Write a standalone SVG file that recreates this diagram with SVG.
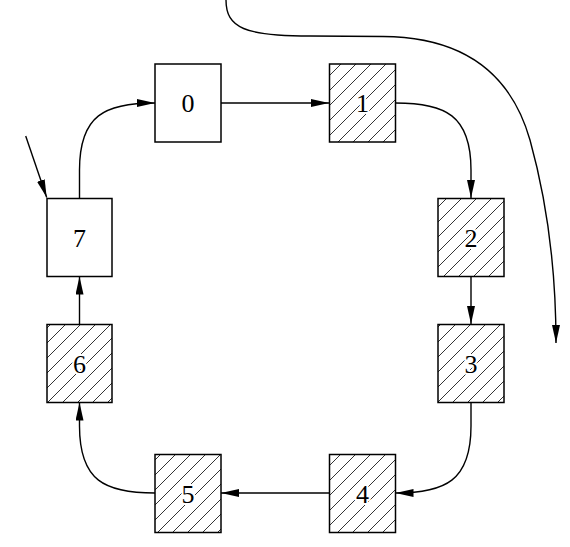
<svg xmlns="http://www.w3.org/2000/svg" width="570" height="547" viewBox="0 0 570 547">
<style>
.box{stroke:#000;stroke-width:1.5}
.plain{fill:#fff}
.hatch{fill:url(#h)}
.lbl{font-family:"Liberation Serif","Times New Roman",serif;font-size:26px;text-anchor:middle;fill:#000;stroke:#fff;stroke-width:4;paint-order:stroke;stroke-linejoin:round}
.edge{fill:none;stroke:#000;stroke-width:1.4;marker-end:url(#a)}
</style>
<defs>
<pattern id="h" patternUnits="userSpaceOnUse" width="15" height="15">
<rect width="15" height="15" fill="#fff"/>
<path d="M-1,1 L1,-1 M0,15 L15,0 M14,16 L16,14" stroke="#000" stroke-width="0.8"/>
</pattern>
<marker id="a" markerUnits="userSpaceOnUse" markerWidth="20" markerHeight="10" refX="18" refY="4" orient="auto">
<path d="M0,0 L18,4 L0,8 z" fill="#000"/>
</marker>
</defs>
<g id="connectors">
<path class="edge" d="M221,103 L329,103"/>
<path class="edge" d="M395.5,103 C445,103 471,115 471,170 L471,198"/>
<path class="edge" d="M471,276.5 L471,324"/>
<path class="edge" d="M471,402.5 L471,426 C471,481 445,493 395.5,493"/>
<path class="edge" d="M329,493 L221,493"/>
<path class="edge" d="M155,493 C105,493 79.5,481 79.5,426 L79.5,402.5"/>
<path class="edge" d="M79.5,324 L79.5,276.5"/>
<path class="edge" d="M79.5,198 L79.5,170 C79.5,115 105,103 155,103"/>
<path class="edge" d="M25.7,136 L46.7,197.5"/>
<path class="edge" d="M226,0 C226,28 245,36 310,36 L383,36.5 C460,37 510,70 530,140 C548,205 556,270 556,343"/>
</g>
<g id="n0"><rect class="box plain" x="155" y="64" width="66" height="78"/><text class="lbl" x="188" y="112">0</text></g>
<g id="n1"><rect class="box hatch" x="329.5" y="64" width="66" height="78"/><text class="lbl" x="362.5" y="112">1</text></g>
<g id="n2"><rect class="box hatch" x="438" y="198.5" width="66" height="78"/><text class="lbl" x="471" y="246.5">2</text></g>
<g id="n3"><rect class="box hatch" x="438" y="324.5" width="66" height="78"/><text class="lbl" x="471" y="372.5">3</text></g>
<g id="n4"><rect class="box hatch" x="329.5" y="454.5" width="66" height="78"/><text class="lbl" x="362.5" y="502.5">4</text></g>
<g id="n5"><rect class="box hatch" x="155" y="454.5" width="66" height="78"/><text class="lbl" x="188" y="502.5">5</text></g>
<g id="n6"><rect class="box hatch" x="47" y="324.5" width="65" height="78"/><text class="lbl" x="79.5" y="372.5">6</text></g>
<g id="n7"><rect class="box plain" x="47" y="198.5" width="65" height="78"/><text class="lbl" x="79.5" y="246.5">7</text></g>
</svg>
